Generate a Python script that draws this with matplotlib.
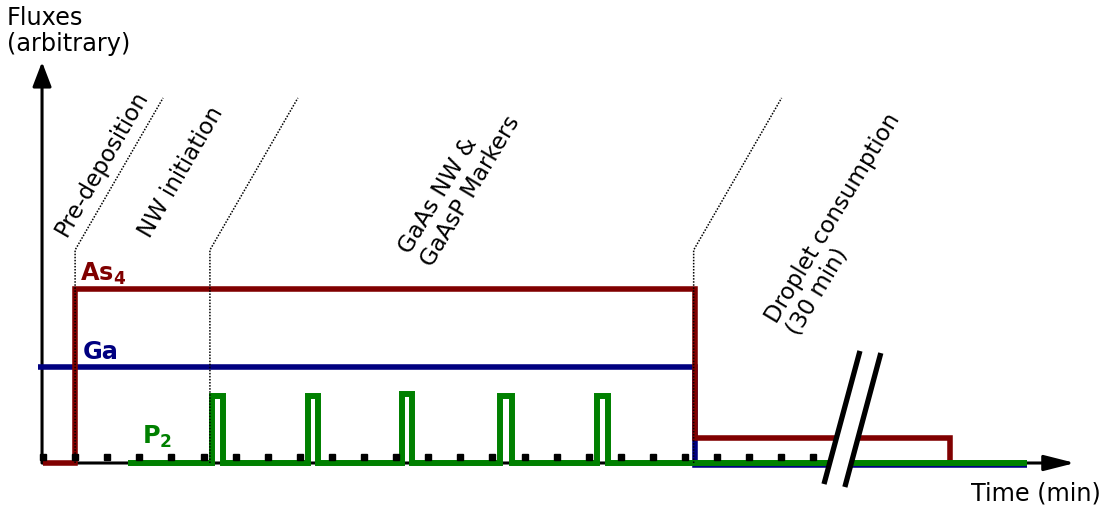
import matplotlib.pyplot as plt
import numpy as np
from matplotlib.patches import Polygon

# time in "tick" units (one tick = one step on the time axis), flux arbitrary
ticks = list(range(0, 25))

as4_t = [0, 1.0, 20.3, 28.25]
as4_v = [0, 1.0, 0.145, 0]

ga_t = [-0.16, 20.3, 30.65]
ga_v = [0.552, -0.012, -0.012]

p2_start = 2.65
p2_end = 30.65
p2_pulses = [(5.26, 5.61), (8.26, 8.57), (11.18, 11.5), (14.24, 14.61), (17.26, 17.6)]
p2_heights = [0.385, 0.385, 0.394, 0.385, 0.385]

# phase boundaries (dotted guides) and their labels
guide_t = [1.0, 5.2, 20.27]
phase_labels = ['Pre-deposition', 'NW initiation', 'GaAs NW &\nGaAsP Markers',
                'Droplet consumption\n(30 min)']

RED = '#800000'
BLUE = '#000080'
GREEN = '#008000'

plt.rcParams['mathtext.fontset'] = 'dejavusans'

# build P2 step series from the pulses
p2_x = [p2_start]
p2_y = [0]
for (a, b), h in zip(p2_pulses, p2_heights):
    p2_x += [a, b]
    p2_y += [h, 0]
p2_x.append(p2_end)
p2_y.append(0)

fig = plt.figure(figsize=(11.04, 5.12), dpi=100)
ax = fig.add_axes([0, 0, 1, 1])
ax.set_xlim(-43 / 32.1, (1104 - 43) / 32.1)
ax.set_ylim(-49 / 174, 463 / 174)
ax.axis('off')

# axes with arrows
ax.annotate('', xy=(32.15, 0), xytext=(0, 0),
            arrowprops=dict(arrowstyle='-|>,head_length=0.75,head_width=0.19',
                            mutation_scale=25, lw=2.2, color='black',
                            shrinkA=0, shrinkB=0), zorder=1)
ax.annotate('', xy=(-0.03, 2.305), xytext=(-0.03, 0),
            arrowprops=dict(arrowstyle='-|>,head_length=0.6,head_width=0.23',
                            mutation_scale=25, lw=2.2, color='black',
                            shrinkA=0, shrinkB=0), zorder=1)

ax.step(ga_t, ga_v, where='post', color=BLUE, lw=4.0, zorder=2,
        solid_capstyle='butt', solid_joinstyle='miter')
ax.step(as4_t, as4_v, where='post', color=RED, lw=4.0, zorder=3,
        solid_capstyle='butt', solid_joinstyle='miter')
ax.step(p2_x, p2_y, where='post', color=GREEN, lw=4.3, zorder=5,
        solid_capstyle='butt', solid_joinstyle='miter')

# tick marks above the time axis
ax.plot(ticks, [0.037] * len(ticks), ls='none', marker='s', ms=4.6,
        color='black', zorder=6)

# dotted phase guides
for t in guide_t:
    ax.plot([t, t, t + 2.74], [0, 1.224, 2.098], color='black', lw=1.1,
            ls=(0, (1, 1)), zorder=7)

# axis break
ax.add_patch(Polygon([(24.33, -0.121), (25.45, 0.644), (26.1, 0.632), (24.98, -0.138)],
                     closed=True, facecolor='white', edgecolor='none', zorder=6.5))
ax.plot([24.33, 25.45], [-0.121, 0.644], color='black', lw=3.8, zorder=8,
        solid_capstyle='butt')
ax.plot([24.98, 26.1], [-0.138, 0.632], color='black', lw=3.8, zorder=8,
        solid_capstyle='butt')

W, H = 1104, 512
fs = 17.3
fs_phase = 16.5


def ftext(x, y, s, **kw):
    fig.text(x / W, 1 - y / H, s, **kw)


ftext(7, 6, 'Fluxes\n(arbitrary)', fontsize=fs, ha='left', va='top', linespacing=1.1)
ftext(971, 501, 'Time (min)', fontsize=fs, ha='left', va='baseline')

ftext(80, 281, r'$\mathbf{As}_{\mathbf{4}}$', fontsize=fs, color=RED, ha='left', va='baseline')
ftext(83, 359, 'Ga', fontsize=fs, fontweight='bold', color=BLUE, ha='left', va='baseline')
ftext(142, 444, r'$\mathbf{P}_{\mathbf{2}}$', fontsize=fs, color=GREEN, ha='left', va='baseline')

# anchor = baseline start of the last line
label_pos = [(66, 238, 60), (150, 239, 60), (430, 267, 59), (796, 336, 59)]
for (x, y, rot), s in zip(label_pos, phase_labels):
    ftext(x, y, s, fontsize=fs_phase, ha='left', va='baseline', rotation=rot,
          rotation_mode='anchor', linespacing=1.1)

fig.savefig('out.png', dpi=100)
